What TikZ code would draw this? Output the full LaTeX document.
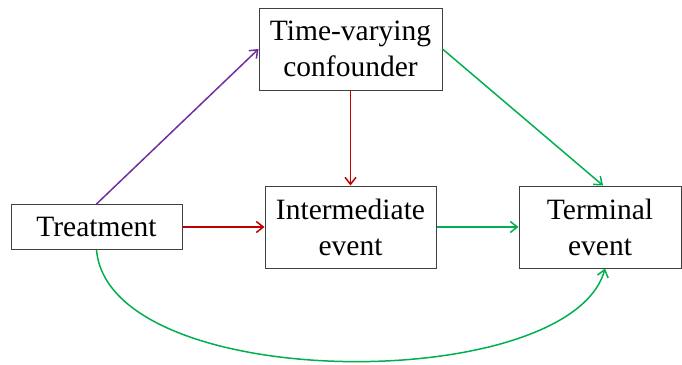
\documentclass[tikz,border=0pt]{standalone}
\usepackage{fontspec}
\setmainfont{Liberation Serif}
\usetikzlibrary{arrows.meta,calc}
\definecolor{cpurple}{HTML}{7030A0}
\definecolor{cred}{HTML}{C00000}
\definecolor{cgreen}{HTML}{00B050}
\definecolor{cbox}{HTML}{404040}
\tikzset{
  box/.style={draw=cbox, line width=1pt, align=center, inner sep=0pt,
    font=\fontsize{29.5}{36}\selectfont, text=black},
  conn/.style={line width=1.5pt, -{Straight Barb[length=7pt,width=11pt,line width=1.5pt]}},
}
\begin{document}
\begin{tikzpicture}[x=1pt,y=-1pt]
\useasboundingbox (0,0) rectangle (682,364);
\node[box, minimum width=183, minimum height=82] (conf) at (350.5,49) {Time-varying\\confounder};
\node[box, minimum width=171, minimum height=45] (treat) at (96.5,227) {Treatment};
\node[box, minimum width=171, minimum height=82] (inter) at (350.5,227) {Intermediate\\event};
\node[box, minimum width=162, minimum height=82] (term) at (600,227) {Terminal\\event};
\draw[conn, cpurple] (treat.north) -- (conf.west);
\draw[conn, cred] (conf.south) -- (inter.north);
\draw[conn, cred] (treat.east) -- (inter.west);
\draw[conn, cgreen] (inter.east) -- (term.west);
\draw[conn, cgreen] (conf.east) -- ([xshift=3pt]term.north);
\draw[conn, cgreen] (treat.south) .. controls +(13,145) and +(-35,127) .. ([xshift=5pt]term.south);
\end{tikzpicture}
\end{document}
